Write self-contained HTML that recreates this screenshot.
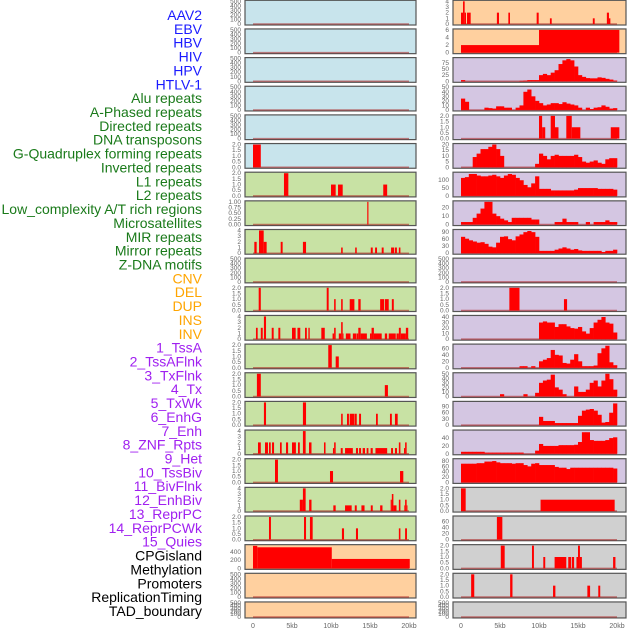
<!DOCTYPE html>
<html><head><meta charset="utf-8"><style>
html,body{margin:0;padding:0;background:#fff;}
svg{display:block;font-family:"Liberation Sans",sans-serif;}
</style></head><body>
<svg id="chart" width="630" height="630" viewBox="0 0 630 630" xmlns="http://www.w3.org/2000/svg"></svg>
<script>
// ---- labels ----
const trackLabels = ["AAV2","EBV","HBV","HIV","HPV","HTLV-1","Alu repeats","A-Phased repeats","Directed repeats","DNA transposons","G-Quadruplex forming repeats","Inverted repeats","L1 repeats","L2 repeats","Low_complexity A/T rich regions","Microsatellites","MIR repeats","Mirror repeats","Z-DNA motifs","CNV","DEL","DUP","INS","INV","1_TssA","2_TssAFlnk","3_TxFlnk","4_Tx","5_TxWk","6_EnhG","7_Enh","8_ZNF_Rpts","9_Het","10_TssBiv","11_BivFlnk","12_EnhBiv","13_ReprPC","14_ReprPCWk","15_Quies","CPGisland","Methylation","Promoters","ReplicationTiming","TAD_boundary"];
const xTickValues = [0,5,10,15,20];
const xTickLabels = ["0","5kb","10kb","15kb","20kb"];
const emptyTicks = [0,100,200,300,400,500];

// ---- sparse panels: [startKb, endKb, value] ----
const htlvSegs = [[0,1,2]];
const aluSegs = [[3.97,4.53,2],[10.0,10.6,1],[10.9,11.5,1],[16.7,17.2,1]];
const lowCplxSegs = [[14.65,14.8,1]];
const microSegs = [[0.17,0.47,2],[0.77,1.37,4],[1.37,1.75,2],[3.55,3.8,2],[6.4,6.8,2],[11.3,11.5,1],[13.1,13.3,1],[15.1,15.35,1],[15.65,15.9,1],[16.5,16.75,1],[17.7,18.1,1],[18.2,18.45,1],[18.7,18.9,1]];
const mirrorSegs = [[0.73,1.0,2],[9.45,9.7,2],[10.4,10.6,1],[11.3,11.5,1],[12.4,13.0,1],[13.5,13.8,1],[16.3,16.8,1],[16.9,17.4,1],[17.8,18.05,1]];
const row11Segs = [[0.38,0.6,2],[1.0,1.25,2],[1.4,1.67,4],[2.4,2.65,2],[3.25,3.5,2],[5.0,5.47,2],[5.7,6.06,2],[6.67,6.9,2],[7.1,7.27,2],[8.76,9.2,2],[10.2,10.4,1],[10.4,10.6,2],[11.0,11.3,1],[11.3,11.5,3],[11.5,11.6,1],[11.9,12.5,1],[12.8,13.25,1],[13.3,13.5,1],[13.5,13.8,2],[13.8,14.6,1],[15.0,15.2,1],[15.2,15.5,2],[15.5,16.5,1],[16.9,17.2,1],[17.4,18.3,1],[18.4,18.7,1],[18.7,18.95,2],[18.95,19.6,1],[19.6,19.9,2]];
const row12Segs = [[9.65,10.1,2],[10.6,11.0,1]];
const row13Segs = [[0.5,1.0,2],[16.9,17.3,1]];
const row14Segs = [[1.4,1.67,2],[6.4,6.8,2],[11.3,11.5,1],[12.05,12.3,1],[12.4,12.95,1],[13.0,13.3,1],[13.6,13.85,1],[15.77,16.0,1],[17.56,17.8,1],[18.2,18.55,1]];
const row15Segs = [[0.64,1.0,2],[1.54,1.92,2],[2.05,2.27,2],[2.44,2.7,2],[3.46,3.68,2],[4.23,4.5,2],[5.0,5.5,2],[5.77,6.0,2],[6.4,6.75,4],[7.18,7.5,2],[9.1,9.3,2],[10.25,10.4,1],[10.4,10.6,2],[11.25,11.5,1],[11.8,12.8,1],[13.2,13.46,1],[13.6,13.85,1],[14.06,14.36,1],[14.57,14.8,1],[15.08,15.35,1],[15.7,17.2,1],[17.7,17.95,1],[18.2,18.46,1],[18.7,18.9,2],[19.36,19.5,1],[19.5,19.7,2]];
const row16Segs = [[2.82,3.2,2],[9.87,10.26,1],[18.85,19.27,1]];
const row17Segs = [[6.0,6.4,2],[6.4,6.75,4],[7.2,7.5,2],[10.3,10.6,1],[11.8,12.65,1],[13.05,13.3,1],[13.9,14.3,1],[15.1,15.35,1],[16.3,16.6,1],[17.65,17.8,2],[17.8,18.0,3],[18.0,18.4,1],[18.7,18.9,2],[19.4,19.5,1],[19.5,19.7,2],[19.7,19.8,1]];
const row18Segs = [[2.05,2.3,2],[6.54,6.8,2],[7.3,7.65,2],[11.4,11.67,1],[13.2,13.46,1],[18.7,18.9,1],[19.5,19.74,1]];
const row19Segs = [[0,0.55,550],[0.55,10.1,515],[10.1,20.1,230]];
const insSegs = [[0,0.26,2],[0.26,0.47,4],[0.47,0.64,2],[0.77,1.24,2],[4.6,4.87,2],[6.07,6.28,2],[9.7,9.96,2],[11.4,11.63,1],[16.9,17.14,1],[18.7,18.97,2],[18.97,19.15,1]];
const invSegs = [[0,10,2],[10,20.3,6]];
const tssBivSegs = [[10,10.4,2],[10.4,10.8,1],[11.5,12.05,2],[12.05,12.5,1],[13.5,14.2,2],[14.2,15.3,1],[19.2,20.3,1]];
const row10rSegs = [[6.2,7.5,2],[13.2,13.6,1]];
const row17rSegs = [[0,0.6,2],[10.2,19.7,1]];
const row18rSegs = [[4.6,5.3,75]];
const row19rSegs = [[5.1,5.6,2],[9.1,9.35,2],[10.55,10.8,1],[12.0,13.5,1],[13.75,14.1,1],[14.2,14.5,1],[14.8,15.0,1],[15.0,15.25,2],[15.25,15.5,1],[19.5,19.8,1]];
const row20rSegs = [[1.3,1.7,2],[6.3,6.6,2],[11.8,12.1,1],[16.2,16.55,1],[17.6,17.85,1]];

// ---- dense panels: values per 0.5kb bin, 0..20kb ----
const bins2 = [5,0,0,0,0,0,0,0,0,0,0,0,0,0,0,2,3,5,5,5,25,30,25,35,45,70,85,90,85,60,25,18,13,12,12,16,14,10,7,3];
const bins3 = [25,18,0,0,0,0,5,4,3,8,8,5,5,0,5,10,40,45,30,20,15,10,12,15,15,13,17,14,12,10,5,0,5,2,5,6,10,7,3,4];
const bins5 = [0,0,0,9,12,16,16,18,20,16,10,0,0,0,0,0,0,0,0,3,12,10,7,10,11,10,10,10,10,11,9,5,4,5,6,4,3,7,8,8];
const bins6 = [115,120,140,140,130,125,125,130,135,125,115,130,140,135,115,100,70,55,80,125,45,45,45,35,35,35,35,35,35,40,50,50,50,50,50,45,45,45,45,40];
const bins7 = [3,3,3,8,13,19,27,27,13,10,7,5,3,8,8,8,8,8,6,6,0,0,0,0,3,3,7,3,3,3,0,0,3,0,3,3,3,5,3,3];
const bins8 = [70,62,55,50,45,47,40,28,25,45,70,72,60,55,72,80,90,95,90,70,10,10,10,10,15,20,25,20,15,18,12,10,10,10,10,10,5,10,10,15];
const bins11 = [0,0,0,0,0,0,0,0,0,0,0,0,0,0,0,0,0,0,0,0,30,32,30,30,22,27,27,23,20,19,22,14,10,20,30,35,40,30,28,12];
const bins12 = [0,0,0,0,0,0,0,0,0,0,0,0,0,0,0,5,5,0,5,0,20,25,30,55,40,38,15,13,25,42,20,5,5,5,7,45,60,68,17,8];
const bins13 = [0,0,0,0,0,0,0,0,0,0,5,0,0,0,0,0,5,0,0,8,30,35,37,48,20,15,5,0,0,22,10,10,15,30,35,22,35,50,38,15];
const bins14 = [0,0,0,0,0,0,0,0,0,0,0,0,0,0,0,0,0,0,0,0,40,20,20,20,10,10,10,10,10,10,45,70,75,78,70,50,12,15,60,105];
const bins15 = [5,5,5,5,5,5,3,3,3,3,3,3,3,3,3,3,0,0,0,8,25,20,20,20,20,22,22,22,22,23,30,55,55,35,33,33,33,35,40,42];
const bins16 = [70,70,70,70,72,72,78,78,80,75,72,72,72,70,72,72,65,60,70,72,65,65,65,65,58,55,55,50,55,55,55,55,55,55,55,55,55,55,55,52];

const C = {blue:"#c8e4ec", green:"#c8e2a4", orange:"#ffd09f", purple:"#d4c6e2", gray:"#d0d0d0"};
// per column: [name, type, data, ymax, ticks, bg]
const leftCol = [
 ["aav2","s",[],500,emptyTicks,C.blue],["ebv","s",[],500,emptyTicks,C.blue],["hbv","s",[],500,emptyTicks,C.blue],
 ["hiv","s",[],500,emptyTicks,C.blue],["hpv","s",[],500,emptyTicks,C.blue],["htlv","s",htlvSegs,2,[0,0.5,1,1.5,2],C.blue],
 ["r6","s",aluSegs,2,[0,0.5,1,1.5,2],C.green],["r7","s",lowCplxSegs,1,[0,0.25,0.5,0.75,1],C.green],
 ["r8","s",microSegs,4,[0,1,2,3,4],C.green],["r9","s",[],500,emptyTicks,C.green],
 ["r10","s",mirrorSegs,2,[0,0.5,1,1.5,2],C.green],["r11","s",row11Segs,4,[0,1,2,3,4],C.green],
 ["r12","s",row12Segs,2,[0,0.5,1,1.5,2],C.green],["r13","s",row13Segs,2,[0,0.5,1,1.5,2],C.green],
 ["r14","s",row14Segs,2,[0,0.5,1,1.5,2],C.green],["r15","s",row15Segs,4,[0,1,2,3,4],C.green],
 ["r16","s",row16Segs,2,[0,0.5,1,1.5,2],C.green],["r17","s",row17Segs,4,[0,1,2,3,4],C.green],
 ["r18","s",row18Segs,2,[0,0.5,1,1.5,2],C.green],["r19","s",row19Segs,555,[0,200,400],C.orange],
 ["r20","s",[],500,emptyTicks,C.orange],["r21","s",[],500,emptyTicks,C.orange]
];
const rightCol = [
 ["ins","s",insSegs,4,[0,1,2,3,4],C.orange],["inv","s",invSegs,6,[0,2,4,6],C.orange],
 ["c2","b",bins2,92,[0,25,50,75],C.purple],["c3","b",bins3,50,[0,10,20,30,40,50],C.purple],
 ["c4","s",tssBivSegs,2,[0,0.5,1,1.5,2],C.purple],["c5","b",bins5,20,[0,5,10,15,20],C.purple],
 ["c6","b",bins6,145,[0,50,100],C.purple],["c7","b",bins7,27,[0,10,20],C.purple],
 ["c8","b",bins8,97,[0,30,60,90],C.purple],["c9","s",[],500,emptyTicks,C.purple],
 ["c10","s",row10rSegs,2,[0,0.5,1,1.5,2],C.purple],["c11","b",bins11,41,[0,10,20,30,40],C.purple],
 ["c12","b",bins12,70,[0,20,40,60],C.purple],["c13","b",bins13,50,[0,10,20,30,40,50],C.purple],
 ["c14","b",bins14,110,[0,30,60,90],C.purple],["c15","b",bins15,58,[0,20,40],C.purple],
 ["c16","b",bins16,85,[0,20,40,60,80],C.purple],["g17","s",row17rSegs,2,[0,0.5,1,1.5,2],C.gray],
 ["g18","s",row18rSegs,75,[0,20,40,60],C.gray],["g19","s",row19rSegs,2,[0,0.5,1,1.5,2],C.gray],
 ["g20","s",row20rSegs,2,[0,0.5,1,1.5,2],C.gray],["g21","s",[],500,emptyTicks,C.gray]
];

const NS = "http://www.w3.org/2000/svg";
const svg = document.getElementById("chart");
function mk(tag, attrs, parent){
  const e = document.createElementNS(NS, tag);
  for (const k in attrs) e.setAttribute(k, attrs[k]);
  (parent||svg).appendChild(e); return e;
}
const labelColors = i => i<6 ? "#1a1aff" : i<19 ? "#1a7a1a" : i<24 ? "#ffa500" : i<39 ? "#a020f0" : "#000";
trackLabels.forEach((t,i)=>{
  const el = mk("text",{x:202,y:(20+i*13.86).toFixed(1),"text-anchor":"end","font-size":"14",fill:labelColors(i)});
  
  
  el.textContent = t;
});
const cols = [
  {panels:leftCol, left:245, right:416, x0:253, x20:409, tickX:241},
  {panels:rightCol, left:453, right:626, x0:461, x20:617, tickX:449}
];
function decimalsOf(ticks){
  let d = 0;
  ticks.forEach(v=>{ const s = String(v); if (s.indexOf('.')>=0) d = Math.max(d, s.split('.')[1].length); });
  return d;
}
cols.forEach((col,ci)=>{
  const xs = kb => col.x0 + (col.x20-col.x0)*kb/20;
  col.panels.forEach((p,ri)=>{
    const top = 0.3 + ri*28.65;
    const h = ri===21 ? 16 : 24.7;
    const bottom = top + h;
    const g = mk("g",{});
    
    
    mk("rect",{x:col.left,y:top,width:col.right-col.left,height:h,fill:p[5],stroke:"#555","stroke-width":"1.2"},g);
    const ys = v => bottom - 1 - (v/p[3])*(h-2);
    const dec = decimalsOf(p[4]);
    p[4].forEach(tv=>{
      const t = mk("text",{x:col.tickX,y:(ys(tv)+2).toFixed(1),"text-anchor":"end","font-size":"6.5",fill:"#666"},g);
      
      
      t.textContent = tv.toFixed(dec);
    });
    const bl = mk("line",{x1:xs(0),x2:xs(20),y1:bottom-1,y2:bottom-1,stroke:"rgba(170,30,30,0.55)","stroke-width":"1.5"},g);
    
    
    if (p[1]==="s"){
      p[2].forEach(s=>{
        const r = mk("rect",{x:xs(s[0]).toFixed(2),y:ys(s[2]).toFixed(2),width:Math.max(0.8,xs(s[1])-xs(s[0])).toFixed(2),height:(bottom-1-ys(s[2])).toFixed(2),fill:"#ff0000"},g);
        
        
      });
    } else {
      p[2].forEach((v,k)=>{
        if (!v) return;
        const r = mk("rect",{x:xs(k*0.5).toFixed(2),y:ys(v).toFixed(2),width:(xs(0.5)-xs(0)+0.3).toFixed(2),height:(bottom-1-ys(v)).toFixed(2),fill:"#ff0000"},g);
        
        
      });
    }
  });
  xTickValues.forEach((v,i)=>{
    const t = mk("text",{x:xs(v),y:628,"text-anchor":"middle","font-size":"7",fill:"#666"});
    
    
    t.textContent = xTickLabels[i];
  });
});
</script>
</body></html>
